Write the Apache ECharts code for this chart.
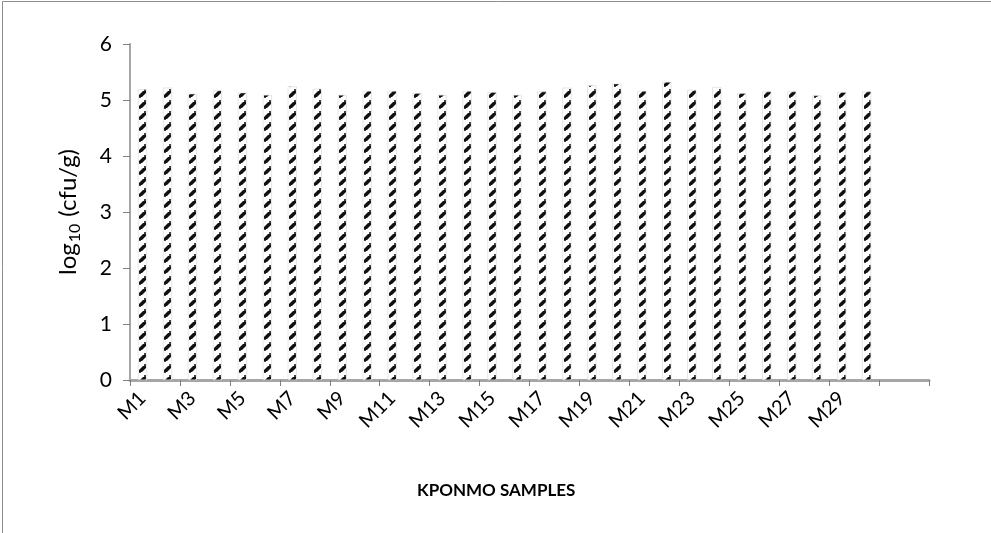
<!DOCTYPE html>
<html>
<head>
<meta charset="utf-8">
<script src="https://cdn.jsdelivr.net/npm/echarts@6/dist/echarts.min.js"></script>
<style>html,body{margin:0;padding:0;background:#fff}#c{width:991px;height:533px}</style>
</head>
<body>
<div id="c"></div>
<script>
const categories = ['M1','M2','M3','M4','M5','M6','M7','M8','M9','M10','M11','M12','M13','M14','M15','M16','M17','M18','M19','M20','M21','M22','M23','M24','M25','M26','M27','M28','M29','M30','',''];
const values = [5.19,5.22,5.11,5.17,5.13,5.09,5.24,5.20,5.09,5.16,5.16,5.12,5.09,5.16,5.14,5.09,5.15,5.22,5.26,5.29,5.16,5.32,5.18,5.23,5.12,5.15,5.15,5.08,5.14,5.15];
const yTicks = [0,1,2,3,4,5,6];

// hatch pattern (tile width matches category band so every bar shows the same phase)
const pc = document.createElement('canvas');
pc.width = 25; pc.height = 11;
const g = pc.getContext('2d');
g.fillStyle = '#fff'; g.fillRect(0,0,25,11);
const ox = 13;
g.fillStyle = '#111';
g.beginPath();
g.moveTo(ox+1,7); g.lineTo(ox+5,3); g.lineTo(ox+8,3); g.lineTo(ox+8,5); g.lineTo(ox+4,9); g.lineTo(ox+1,9); g.closePath();
g.fill();
g.fillStyle = '#444';
g.fillRect(ox+6,1,2,2);
g.fillRect(ox+1,9,2,1);

const chart = echarts.init(document.getElementById('c'));
const font = 'Lato, "Open Sans", sans-serif';
chart.setOption({
  animation: false,
  grid: {left: 130, right: 62, top: 44, bottom: 153},
  graphic: [
    {type: 'rect', shape: {x: 2.5, y: 1.5, width: 1200, height: 800}, style: {fill: 'none', stroke: '#8c8c8c', lineWidth: 1}},
    {type: 'text', left: 417, top: 482, style: {text: 'KPONMO SAMPLES', font: 'bold 17px Lato, "Open Sans", sans-serif', fill: '#000'}}
  ],
  xAxis: {
    type: 'category',
    data: categories,
    axisLine: {lineStyle: {color: '#a6a6a6', width: 3}},
    axisTick: {show: true, length: 6, lineStyle: {color: '#7f7f7f'}},
    axisLabel: {interval: 1, rotate: 45, color: '#000', fontSize: 20, fontFamily: font, margin: 15}
  },
  yAxis: {
    type: 'value',
    min: yTicks[0], max: yTicks[yTicks.length-1], interval: 1,
    name: '{a|log}{s|10}{a| (cfu/g)}',
    nameLocation: 'middle',
    nameRotate: 90,
    nameGap: 50,
    nameTextStyle: {
      color: '#000', fontSize: 24, fontFamily: font,
      rich: {
        a: {color: '#000', fontSize: 24, fontFamily: font, lineHeight: 27, verticalAlign: 'bottom'},
        s: {color: '#000', fontSize: 16, fontFamily: font, lineHeight: 16, verticalAlign: 'bottom', padding: [0, 1, -3, 1]}
      }
    },
    axisLine: {show: true, lineStyle: {color: '#a6a6a6', width: 2}},
    axisTick: {show: true, length: 7, lineStyle: {color: '#7f7f7f'}},
    splitLine: {show: false},
    axisLabel: {color: '#000', fontSize: 21, fontFamily: font, margin: 18}
  },
  series: [{
    type: 'bar',
    data: values,
    barWidth: 9,
    itemStyle: {color: {image: pc, repeat: 'repeat'}, borderColor: '#ccc', borderWidth: 0.5}
  }]
});
</script>
</body>
</html>
